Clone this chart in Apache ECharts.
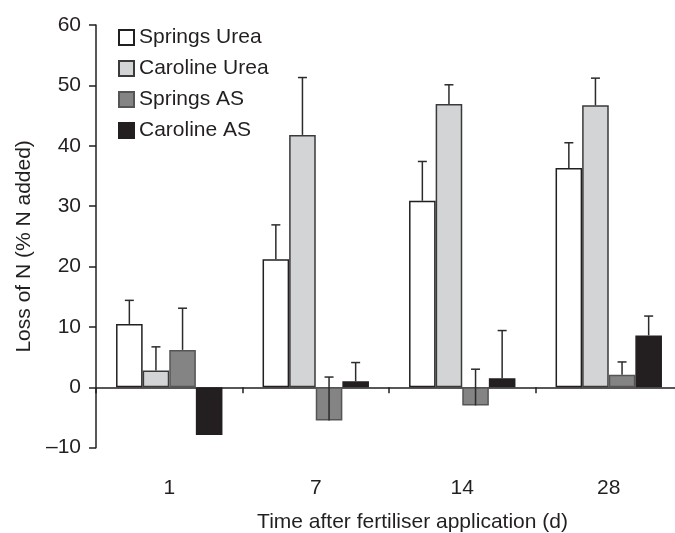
<!DOCTYPE html>
<html>
<head>
<meta charset="utf-8">
<script src="https://cdn.jsdelivr.net/npm/echarts@6/dist/echarts.min.js"></script>
<style>html,body{margin:0;padding:0;background:#fff;}#chart{width:675px;height:533px;}</style>
</head>
<body>
<div id="chart"></div>
<script>
const categories = ['1', '7', '14', '28'];
const seriesNames = ['Springs Urea', 'Caroline Urea', 'Springs AS', 'Caroline AS'];
const springsUrea = [10.5, 21.2, 30.9, 36.3];
const springsUreaErr = [3.9, 5.7, 6.5, 4.2];
const carolineUrea = [2.8, 41.8, 46.9, 46.7];
const carolineUreaErr = [3.9, 9.5, 3.2, 4.5];
const springsAS = [6.2, -5.5, -3.0, 2.1];
const springsASErr = [6.9, 7.2, 6.0, 2.1];
const carolineAS = [-7.9, 1.0, 1.5, 8.6];
const carolineASErr = [null, 3.1, 7.9, 3.2];
const yMin = -10, yMax = 60, yStep = 10;

const FONT = "'Liberation Sans', Arial, sans-serif";
const BAR_W = 26.6;
const values = [springsUrea, carolineUrea, springsAS, carolineAS];
const errs = [springsUreaErr, carolineUreaErr, springsASErr, carolineASErr];
const fills = ['#ffffff', '#d3d4d6', '#848484', '#231f20'];
const borders = ['#231f20', '#3a3a3a', '#555555', '#231f20'];

const series = [];
values.forEach((v, s) => {
  series.push({
    name: seriesNames[s], type: 'bar', data: v, barWidth: BAR_W, barGap: '0%',
    xAxisIndex: 0,
    itemStyle: { color: fills[s], borderColor: borders[s], borderWidth: 1.5 },
    emphasis: { disabled: true }, z: 2
  });
});
values.forEach((v, s) => {
  const offset = (s - 1.5) * BAR_W;
  const data = [];
  v.forEach((val, i) => { if (errs[s][i] != null) data.push([i, val, errs[s][i]]); });
  series.push({
    name: 'err' + s, type: 'custom', z: 5, silent: true, xAxisIndex: 0,
    data: data,
    renderItem: function (params, api) {
      const x = api.value(0), y = api.value(1), e = api.value(2);
      const p0 = api.coord([x, y]);
      const p1 = api.coord([x, y + e]);
      const cx = p0[0] + offset;
      const st = { stroke: '#2b2b2b', lineWidth: 1.5 };
      return { type: 'group', children: [
        { type: 'line', shape: { x1: cx, y1: p0[1], x2: cx, y2: p1[1] }, style: st },
        { type: 'line', shape: { x1: cx - 4.5, y1: p1[1], x2: cx + 4.5, y2: p1[1] }, style: st }
      ]};
    }
  });
});

const chart = echarts.init(document.getElementById('chart'), null, { renderer: 'canvas' });
chart.setOption({
  animation: false,
  backgroundColor: '#ffffff',
  textStyle: { fontFamily: FONT },
  grid: { left: 96, right: -7, top: 25, bottom: 85.3, containLabel: false, outerBoundsMode: 'none' },
  legend: {
    data: seriesNames, orient: 'vertical', left: 118, top: 27,
    itemWidth: 15, itemHeight: 15, itemGap: 10, padding: 0,
    textStyle: { fontSize: 21, color: '#231f20', fontFamily: FONT },
    icon: 'rect'
  },
  xAxis: [{
    type: 'category', data: categories,
    axisLine: { onZero: true, lineStyle: { color: '#231f20', width: 1.5 } },
    axisTick: { show: true, length: 6, lineStyle: { color: '#231f20', width: 1.5 } },
    axisLabel: { show: false }
  }, {
    type: 'category', data: categories, position: 'bottom',
    axisLine: { show: false, onZero: false },
    axisTick: { show: false },
    axisLabel: { margin: 30, fontSize: 21, color: '#231f20', fontFamily: FONT },
    name: 'Time after fertiliser application (d)', nameLocation: 'middle', nameGap: 64,
    nameTextStyle: { fontSize: 21, color: '#231f20', fontFamily: FONT, padding: [0, 0, 0, 47] }
  }],
  yAxis: {
    type: 'value', min: yMin, max: yMax, interval: yStep,
    splitLine: { show: false },
    axisLine: { show: true, lineStyle: { color: '#231f20', width: 1.5 } },
    axisTick: { show: true, length: 7, lineStyle: { color: '#231f20', width: 1.5 } },
    axisLabel: { margin: 15, fontSize: 21, color: '#231f20', fontFamily: FONT,
      formatter: function (v) { return String(v).replace('-', '\u2013'); } },
    name: 'Loss of N (% N added)', nameLocation: 'middle', nameGap: 60,
    nameTextStyle: { fontSize: 21, color: '#231f20', fontFamily: FONT, padding: [0, 20, 0, 0] }
  },
  series: series
});
</script>
</body>
</html>
